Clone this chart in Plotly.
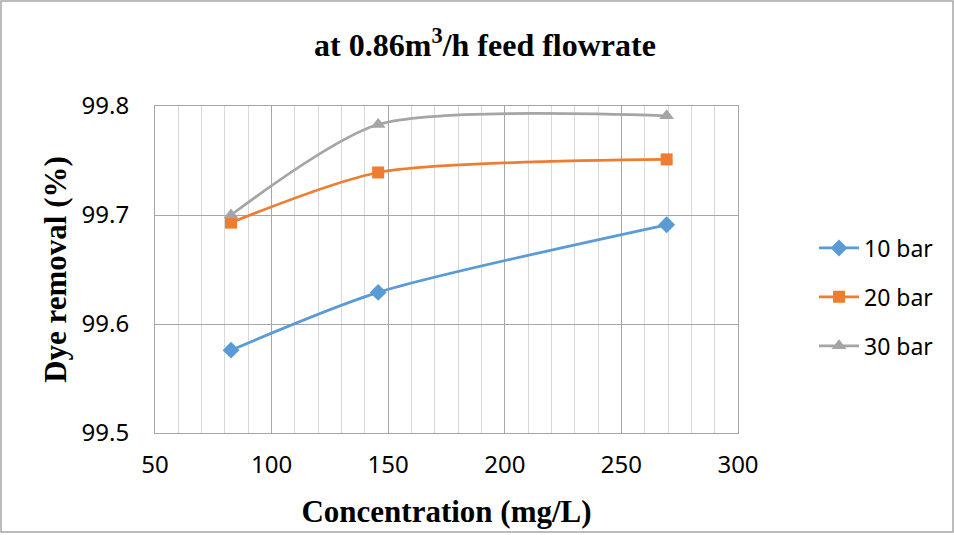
import plotly.graph_objects as go

concentration = [82.6, 145.7, 269.4]
removal_10bar = [99.576, 99.629, 99.691]
removal_20bar = [99.693, 99.739, 99.751]
removal_30bar = [99.700, 99.783, 99.791]
series_names = ["10 bar", "20 bar", "30 bar"]

colors = ["#5B9BD5", "#ED7D31", "#A5A5A5"]
symbols = ["diamond", "square", "triangle-up"]
sizes = [13, 12, 13]

fig = go.Figure()
for i, (name, ys) in enumerate(zip(series_names, [removal_10bar, removal_20bar, removal_30bar])):
    fig.add_trace(go.Scatter(
        x=concentration, y=ys, name=name, mode="lines+markers",
        line=dict(color=colors[i], width=2.75, shape="spline", smoothing=0.7),
        marker=dict(symbol=symbols[i], size=sizes[i], color=colors[i]),
        legendgroup=name,
    ))

W, H = 954, 535
ml, mr, mt, mb = 155, 216, 106, 102
pw, ph = W - ml - mr, H - mt - mb

fig.update_layout(
    width=W, height=H,
    margin=dict(l=ml, r=mr, t=mt, b=mb),
    paper_bgcolor="white", plot_bgcolor="white",
    title=dict(text="at 0.86m<sup>3</sup>/h feed flowrate", x=485 / W, xref="container",
               y=1 - 45 / H, yref="container", xanchor="center", yanchor="middle",
               font=dict(family="Liberation Serif", size=32, color="black", weight="bold")),
    font=dict(family="Noto Sans", color="black"),
    legend=dict(x=(814 - ml) / pw, xanchor="left", y=(433 - 297) / ph, yanchor="middle",
                font=dict(family="Noto Sans", size=23, color="black"),
                tracegroupgap=16, itemwidth=40),
    showlegend=True,
)

fig.update_xaxes(
    range=[50, 300], dtick=50, tick0=50,
    showgrid=True, gridcolor="#a6a6a6", gridwidth=1,
    minor=dict(dtick=10, tick0=50, showgrid=True, gridcolor="#d9d9d9", gridwidth=1),
    showline=True, linecolor="#a6a6a6", linewidth=1, mirror=True,
    zeroline=False, ticks="", ticklabelstandoff=10,
    tickfont=dict(family="Noto Sans", size=24, color="black"),
    title=dict(text="Concentration (mg/L)", standoff=21,
               font=dict(family="Liberation Serif", size=31, color="black", weight="bold")),
)
fig.update_yaxes(
    range=[99.5, 99.8], dtick=0.1, tickformat=".1f",
    showgrid=True, gridcolor="#a6a6a6", gridwidth=1,
    showline=True, linecolor="#a6a6a6", linewidth=1, mirror=True,
    zeroline=False, ticks="", ticklen=0, ticklabelstandoff=20,
    tickfont=dict(family="Noto Sans", size=24, color="black"),
    title=dict(text="Dye removal (%)", standoff=5,
               font=dict(family="Liberation Serif", size=31, color="black", weight="bold")),
)

# outer chart border
fig.add_shape(type="rect", xref="paper", yref="paper",
              x0=(1 - ml) / pw, x1=(W - 1 - ml) / pw,
              y0=-(mb - 3) / ph, y1=(ph + mt - 1) / ph,
              line=dict(color="#a6a6a6", width=1.5), layer="below")

fig.write_html("out.html")
